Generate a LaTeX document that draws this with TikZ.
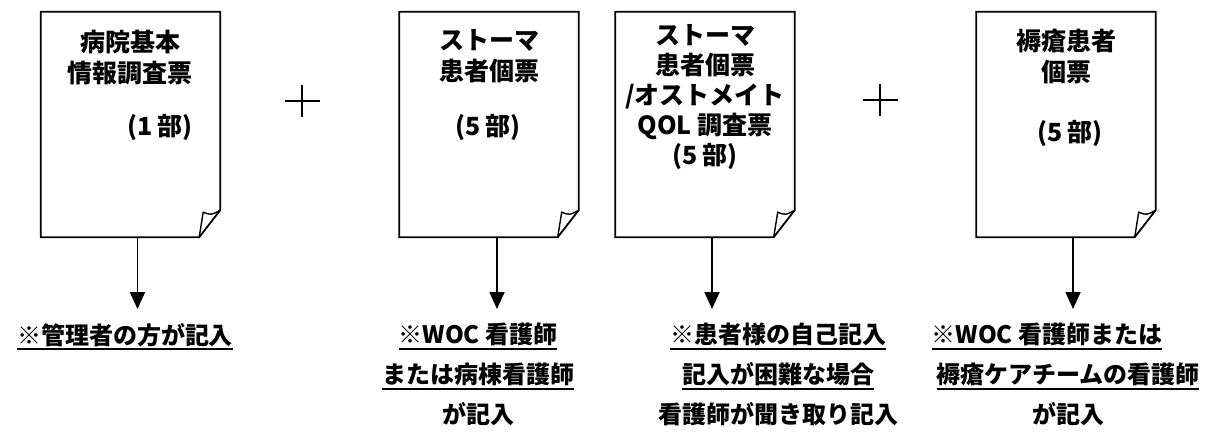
\documentclass[tikz,border=0pt]{standalone}
\usepackage{fontspec}
\usetikzlibrary{arrows.meta}
\newfontfamily\jpfont{Noto Sans CJK JP}
\newcommand\ulw[1]{\setbox0\hbox{#1}\leavevmode\rlap{\rule[-6pt]{\wd0}{2pt}}\box0}

\begin{document}
\begin{tikzpicture}[
            x=1pt, y=-1pt,                % 画像と同じ座標
            >={Triangle[width=15pt,length=17pt]},
            every node/.style={
                inner sep=0pt,
                font=\jpfont\bfseries\fontsize{25}{31}\selectfont
            },
            docbox/.style={minimum width=179pt, minimum height=225pt},
            title/.style={align=center},
            note/.style={align=center, anchor=north,
                font=\jpfont\bfseries\fontsize{24}{40}\selectfont},
            arrow/.style={->, line width=1.8pt},
            paper/.style={line width=1.8pt, line join=miter}
        ]
            \useasboundingbox (0,0) rectangle (1229,432);

            % 用紙
            \node[docbox] (doc1) at (130.5,124.5) {};
            \node[docbox] (doc2) at (489,124.5) {};
            \node[docbox] (doc3) at (705,124.5) {};
            \node[docbox] (doc4) at (1066,124.5) {};
            \foreach \d in {doc1,doc2,doc3,doc4}{
                \draw[paper] (\d.north west) -- (\d.north east)
                    -- ([yshift=27pt]\d.south east) -- ([xshift=-21pt]\d.south east)
                    -- (\d.south west) -- cycle;
                \draw[paper, line width=1.4pt] ([xshift=-21pt]\d.south east)
                    -- ([xshift=-17pt,yshift=25pt]\d.south east)
                    .. controls ([xshift=-9pt,yshift=22pt]\d.south east) .. ([yshift=27pt]\d.south east);
            }

            % 用紙の文字
            \node[title] (t1) at (130,58) {病院基本\\情報調査票};
            \node (n1) at (160,127) {(1 部)};
            \node[title] (t2) at (489,56) {ストーマ\\患者個票};
            \node (n2) at (488,127) {(5 部)};
            \node[title, font=\jpfont\bfseries\fontsize{25}{30}\selectfont] (t3) at (705,97)
                {ストーマ\\患者個票\\/オストメイト\\QOL 調査票\\(5 部)};
            \node[title] (t4) at (1066,57) {褥瘡患者\\個票};
            \node (n4) at (1070,133) {(5 部)};

            % プラス
            \node (plus1) at (302,101) {};
            \node (plus2) at (880,100) {};
            \foreach \p in {plus1,plus2}
                \draw[line width=2.5pt] ([xshift=-17pt]\p.center) -- ([xshift=18pt]\p.center)
                    ([yshift=16pt]\p.center) -- ([yshift=-16pt]\p.center);

            % 記入者
            \node[note] (w1) at (125,323) {\ulw{※管理者の方が記入}};
            \node[note] (w2) at (478,323) {\ulw{※WOC 看護師}\\\ulw{または病棟看護師}\\が記入};
            \node[note] (w3) at (778,323) {\ulw{※患者様の自己記入}\\\ulw{記入が困難な場合}\\看護師が聞き取り記入};
            \node[note] (w4) at (1068,323) {\ulw{※WOC 看護師または}\hspace*{42pt}\\\ulw{褥瘡ケアチームの看護師}\\が記入};

            % 矢印
            \draw[arrow, shorten >=14pt] ([xshift=7pt]doc1.south) -- ([xshift=7pt]doc1.south |- w1.north);
            \draw[arrow, shorten >=14pt] ([xshift=8pt]doc2.south) -- ([xshift=8pt]doc2.south |- w2.north);
            \draw[arrow, shorten >=14pt] ([xshift=7pt]doc3.south) -- ([xshift=7pt]doc3.south |- w3.north);
            \draw[arrow, shorten >=14pt] ([xshift=7pt]doc4.south) -- ([xshift=7pt]doc4.south |- w4.north);
        \end{tikzpicture}
\end{document}
